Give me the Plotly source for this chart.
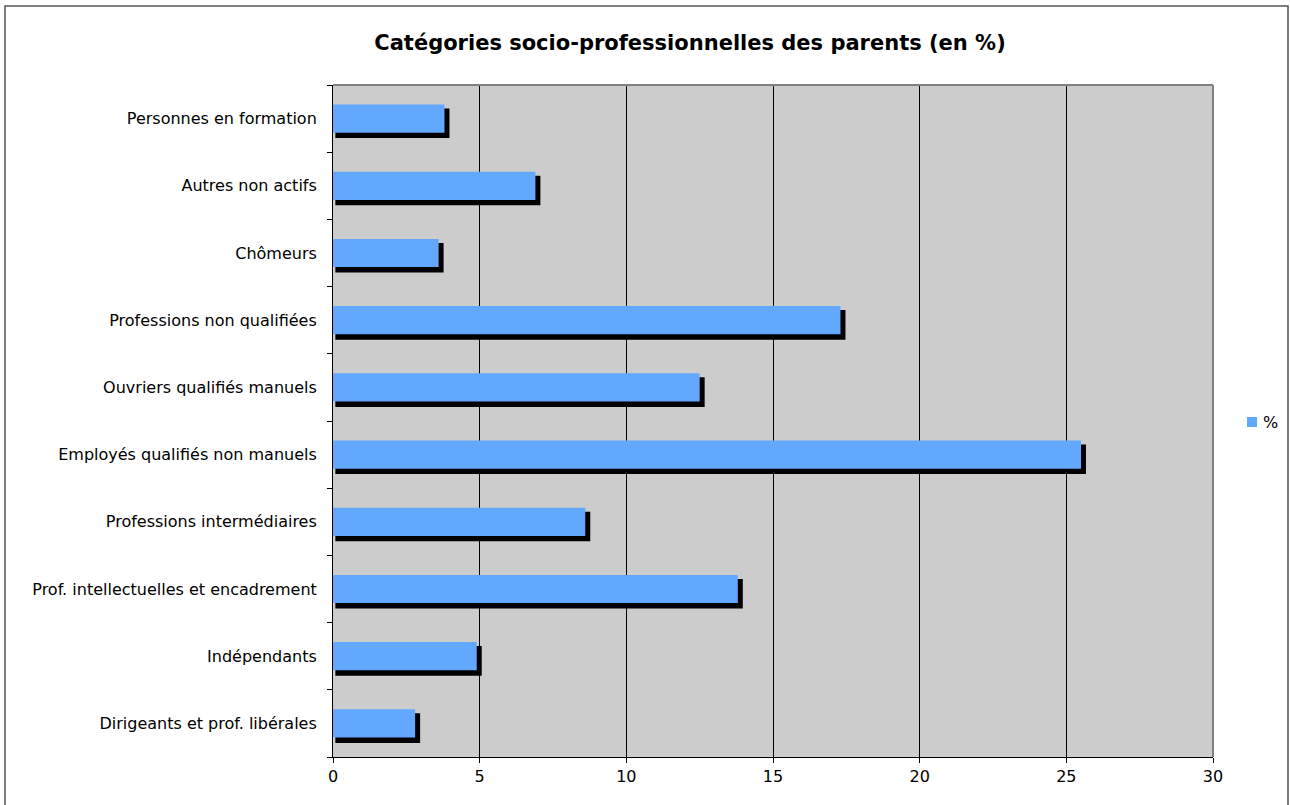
import plotly.graph_objects as go

# Parent socio-professional categories, listed bottom to top
categories = [
    "Dirigeants et prof. libérales",
    "Indépendants",
    "Prof. intellectuelles et encadrement",
    "Professions intermédiaires",
    "Employés qualifiés non manuels",
    "Ouvriers qualifiés manuels",
    "Professions non qualifiées",
    "Chômeurs",
    "Autres non actifs",
    "Personnes en formation",
]
percent = [2.8, 4.9, 13.8, 8.6, 25.5, 12.5, 17.3, 3.6, 6.9, 3.8]
x_ticks = [0, 5, 10, 15, 20, 25, 30]
series_name = "%"

BAR_W = 0.42
SHADOW_DX = 0.08  # horizontal drop-shadow shift, in axis units
BAR_COLOR = "#63A8FF"
FONT = "DejaVu Sans, Verdana, sans-serif"

# page geometry (pixels)
W, H = 1290, 805
L, R, T, B = 333, 77, 85, 48
PW, PH = W - L - R, H - T - B


def px_x(p):
    return (p - L) / PW


def px_y(p):
    return 1 - (p - T) / PH


fig = go.Figure()

# drop shadow behind each bar
fig.add_trace(go.Bar(
    y=categories,
    x=[v + 0.09 for v in percent],
    base=SHADOW_DX,
    orientation="h",
    width=BAR_W + 0.02,
    offset=-BAR_W / 2 - 0.08,
    marker=dict(color="black", line=dict(width=0)),
    showlegend=False,
    hoverinfo="skip",
))

fig.add_trace(go.Bar(
    y=categories,
    x=percent,
    orientation="h",
    width=BAR_W,
    offset=-BAR_W / 2,
    name=series_name,
    marker=dict(color=BAR_COLOR, line=dict(width=0)),
    showlegend=False,
))

fig.update_layout(
    width=W,
    height=H,
    margin=dict(l=L, r=R, t=T, b=B, autoexpand=False),
    paper_bgcolor="white",
    plot_bgcolor="#CCCCCC",
    barmode="overlay",
    font=dict(family=FONT, size=16, color="black"),
    title=dict(
        text="<b>Catégories socio-professionnelles des parents (en %)</b>",
        font=dict(family=FONT, size=21, color="black"),
        x=0.4057, xref="paper", xanchor="center",
        y=1 - 43 / H, yref="container", yanchor="middle",
    ),
    xaxis=dict(
        range=[0, 30],
        tickvals=x_ticks,
        ticks="outside",
        ticklen=5,
        tickcolor="black",
        showline=True,
        linecolor="black",
        linewidth=1,
        showgrid=True,
        gridcolor="black",
        gridwidth=1,
        zeroline=False,
        tickfont=dict(size=16),
        automargin=False,
        fixedrange=True,
    ),
    yaxis=dict(
        categoryorder="array",
        categoryarray=categories,
        range=[-0.5, len(categories) - 0.5],
        ticks="outside",
        tickson="boundaries",
        ticklen=5,
        tickcolor="black",
        showline=True,
        linecolor="black",
        linewidth=1,
        showgrid=False,
        ticklabelstandoff=12,
        tickfont=dict(size=16),
        automargin=False,
        fixedrange=True,
    ),
    shapes=[
        # grey border on the top and right of the plot area
        dict(type="line", xref="paper", yref="paper", x0=0, x1=1, y0=1, y1=1,
             line=dict(color="#808080", width=2)),
        dict(type="line", xref="paper", yref="paper", x0=1, x1=1, y0=0, y1=1,
             line=dict(color="#808080", width=2)),
        # outer chart frame
        dict(type="rect", xref="paper", yref="paper",
             x0=px_x(5), x1=px_x(1288), y0=-0.2, y1=px_y(6),
             line=dict(color="#555555", width=1.5), layer="below"),
        # legend key
        dict(type="rect", xref="paper", yref="paper",
             x0=px_x(1247), x1=px_x(1257), y0=px_y(427), y1=px_y(417),
             fillcolor=BAR_COLOR, line=dict(width=0)),
    ],
    annotations=[
        dict(text=series_name, xref="paper", yref="paper",
             x=px_x(1261), y=px_y(422), xanchor="left", yanchor="middle",
             showarrow=False, font=dict(family=FONT, size=16)),
    ],
)

fig.write_html("out.html")
